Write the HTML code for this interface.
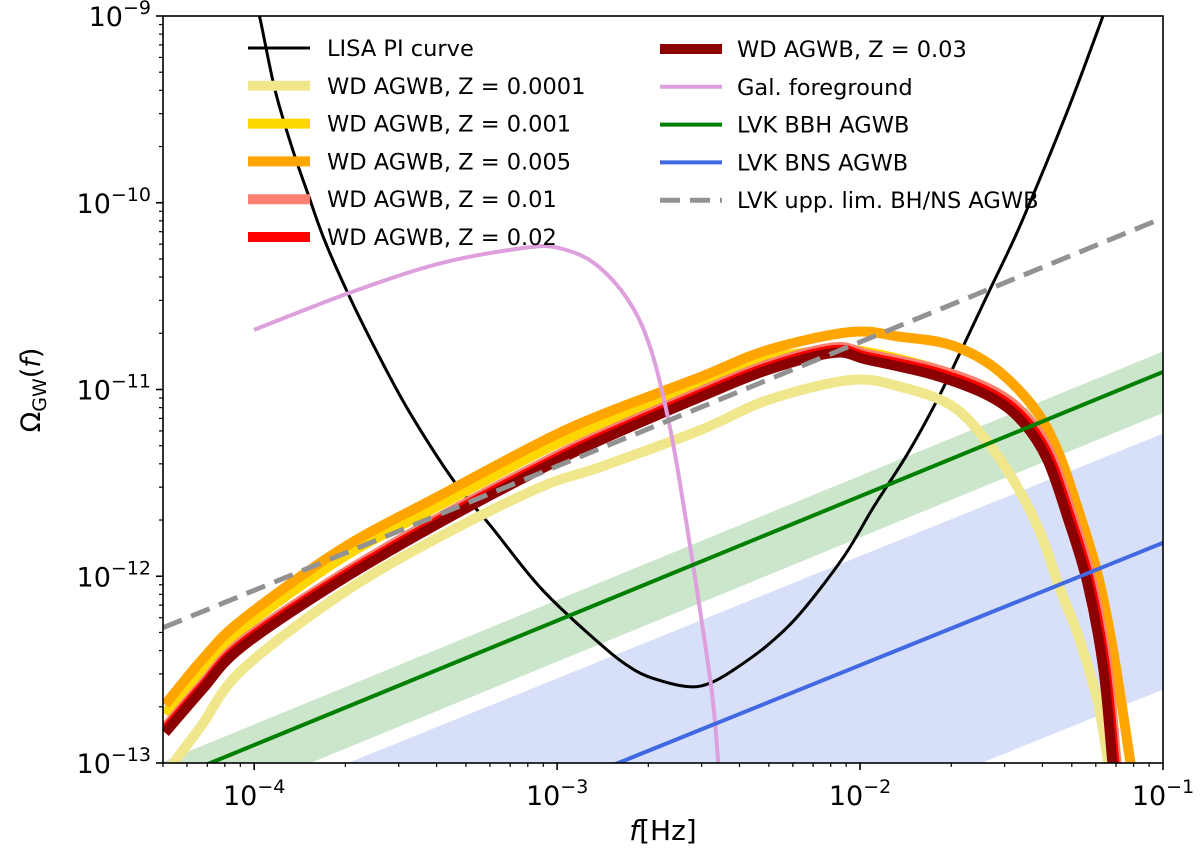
<!DOCTYPE html>
<html><head><meta charset="utf-8"><style>
html,body{margin:0;padding:0;background:#fff;overflow:hidden;width:1200px;height:858px;}
svg{display:block;font-family:"DejaVu Sans","Liberation Sans",sans-serif;}
</style></head><body>
<svg id="chart" width="1200" height="858" viewBox="0 0 1200 858" xmlns="http://www.w3.org/2000/svg">
<defs><clipPath id="plotclip"><rect x="163" y="16" width="1000" height="747"/></clipPath></defs>
<g id="plot" clip-path="url(#plotclip)"></g>
<g id="axes"></g>
<g id="legend"></g>
</svg>
<script>
// ---- data (log10 values) ----
const xTickExps = [-4, -3, -2, -1];
const yTickExps = [-13, -12, -11, -10, -9];

const lisaF = [-4.0,-3.981,-3.932,-3.876,-3.820,-3.767,-3.688,-3.602,-3.490,-3.339,-3.217,-3.052,-2.855,-2.746,-2.657,-2.559,-2.492,-2.416,-2.304,-2.196,-2.054,-1.955,-1.843,-1.745,-1.659,-1.570,-1.481,-1.382,-1.296,-1.198,-1.18];
const lisaOmega = [-8.9,-9.011,-9.391,-9.701,-9.964,-10.204,-10.494,-10.777,-11.114,-11.494,-11.735,-12.067,-12.367,-12.501,-12.56,-12.592,-12.57,-12.50,-12.367,-12.196,-11.896,-11.628,-11.344,-11.055,-10.766,-10.461,-10.156,-9.776,-9.428,-9.0,-8.92];

const galF = [-4.001,-3.678,-3.382,-3.108,-2.996,-2.878,-2.766,-2.690,-2.624,-2.568,-2.525,-2.486,-2.466];
const galOmega = [-10.681,-10.478,-10.323,-10.242,-10.242,-10.323,-10.520,-10.788,-11.232,-11.768,-12.217,-12.661,-13.05];

const uppF = [-4.3, -1.0];
const uppOmega = [-12.275, -10.081];

const bbhF = [-4.4, -1.0];
const bbhOmega = [-13.17, -10.906];
const bbhBandHi = [0.11, 0.11];
const bbhBandLo = [-0.22, -0.22];

const bnsF = [-4.4, -1.0];
const bnsOmega = [-14.05, -11.821];
const bnsBandHi = [0.585, 0.585];
const bnsBandLo = [-0.786, -0.786];

const z0001F = [-4.31,-4.258,-4.172,-4.040,-3.711,-3.382,-3.052,-2.855,-2.525,-2.304,-2.031,-1.866,-1.702,-1.593,-1.494,-1.405,-1.339,-1.283,-1.217,-1.181,-1.17];
const z0001Omega = [-13.1,-12.983,-12.795,-12.501,-12.094,-11.784,-11.521,-11.414,-11.216,-11.056,-10.949,-10.986,-11.082,-11.254,-11.484,-11.767,-12.073,-12.303,-12.661,-12.999,-13.08];

const z005F = [-4.294,-4.172,-4.040,-3.711,-3.382,-3.052,-2.855,-2.525,-2.304,-2.031,-1.866,-1.702,-1.560,-1.428,-1.349,-1.283,-1.217,-1.165,-1.109,-1.10];
const z005Omega = [-12.688,-12.447,-12.233,-11.853,-11.564,-11.280,-11.136,-10.932,-10.788,-10.692,-10.718,-10.761,-10.879,-11.093,-11.323,-11.628,-11.982,-12.394,-12.983,-13.08];

const z03F = [-4.294,-4.172,-4.040,-3.711,-3.382,-3.052,-2.855,-2.525,-2.304,-2.087,-1.975,-1.758,-1.570,-1.461,-1.382,-1.316,-1.250,-1.198,-1.168,-1.163];
const z03Omega = [-12.838,-12.608,-12.378,-12.019,-11.709,-11.425,-11.270,-11.039,-10.895,-10.804,-10.841,-10.922,-11.039,-11.179,-11.377,-11.682,-12.035,-12.485,-12.983,-13.08];

const z02F = [-4.294,-4.172,-4.040,-3.711,-3.382,-3.052,-2.855,-2.525,-2.304,-2.087,-1.975,-1.752,-1.564,-1.455,-1.376,-1.310,-1.244,-1.192,-1.162,-1.157];
const z02Omega = [-12.823,-12.593,-12.363,-12.004,-11.694,-11.410,-11.255,-11.024,-10.880,-10.789,-10.826,-10.907,-11.024,-11.164,-11.362,-11.667,-12.020,-12.470,-12.968,-13.08];

const z01F = [-4.294,-4.172,-4.040,-3.711,-3.382,-3.052,-2.855,-2.525,-2.304,-2.087,-1.975,-1.746,-1.558,-1.449,-1.370,-1.304,-1.238,-1.186,-1.156,-1.150];
const z01Omega = [-12.808,-12.578,-12.348,-11.989,-11.679,-11.395,-11.240,-11.009,-10.865,-10.774,-10.811,-10.892,-11.009,-11.149,-11.347,-11.652,-12.005,-12.455,-12.953,-13.08];

const z001F = [-4.294,-4.172,-4.040,-3.711,-3.382,-3.052,-2.855,-2.525,-2.304,-2.087,-1.975,-1.746,-1.558,-1.449,-1.370,-1.304,-1.238,-1.186,-1.156,-1.150];
const z001Omega = [-12.738,-12.497,-12.283,-11.903,-11.614,-11.330,-11.186,-10.982,-10.838,-10.79,-10.80,-10.892,-11.009,-11.149,-11.347,-11.652,-12.005,-12.455,-12.953,-13.08];

// ---- axes ----
const X0=163, X1=1163, Y0=16, Y1=763;
const XMIN=Math.log10(5e-5), XMAX=-1, YMIN=-13, YMAX=-9;
function sx(v){return X0+(v-XMIN)/(XMAX-XMIN)*(X1-X0);}
function sy(v){return Y1-(v-YMIN)/(YMAX-YMIN)*(Y1-Y0);}
const NS="http://www.w3.org/2000/svg";
function mk(tag,attrs,parent){const e=document.createElementNS(NS,tag);for(const k in attrs)e.setAttribute(k,attrs[k]);parent.appendChild(e);return e;}
function smoothPath(xs,ys){
  const p=xs.map((x,i)=>[sx(x),sy(ys[i])]);
  let d="M"+p[0][0].toFixed(1)+","+p[0][1].toFixed(1);
  for(let i=0;i<p.length-1;i++){
    const p0=p[i-1]||p[i],p1=p[i],p2=p[i+1],p3=p[i+2]||p2;
    const c1=[p1[0]+(p2[0]-p0[0])/6,p1[1]+(p2[1]-p0[1])/6];
    const c2=[p2[0]-(p3[0]-p1[0])/6,p2[1]-(p3[1]-p1[1])/6];
    d+=" C"+c1[0].toFixed(1)+","+c1[1].toFixed(1)+" "+c2[0].toFixed(1)+","+c2[1].toFixed(1)+" "+p2[0].toFixed(1)+","+p2[1].toFixed(1);
  }
  return d;
}
function clipEdge(xa,ya,xb,yb,floor){
  if(ya<floor && yb>floor){const t=(floor-ya)/(yb-ya);return [xa+t*(xb-xa),floor,xb,yb];}
  return [xa,ya,xb,yb];
}
const plot=document.getElementById('plot');
function band(xs,ys,hi,lo,color,name){
  const floor=-13.05, n=xs.length-1;
  const up=clipEdge(xs[0],ys[0]+hi[0],xs[n],ys[n]+hi[n],floor);
  const dn=clipEdge(xs[0],ys[0]+lo[0],xs[n],ys[n]+lo[n],floor);
  const pts=[[up[0],up[1]],[up[2],up[3]],[dn[2],dn[3]],[dn[0],dn[1]]].map(p=>sx(p[0]).toFixed(1)+","+sy(p[1]).toFixed(1));
  const el=mk('polygon',{points:pts.join(' '),fill:color,stroke:'none'},plot);
  
  
}
function line(xs,ys,color,w,name,dash){
  const a={d:smoothPath(xs,ys),fill:'none',stroke:color,'stroke-width':w,'stroke-linejoin':'round','stroke-linecap':'butt'};
  if(dash)a['stroke-dasharray']=dash;
  const el=mk('path',a,plot);
  
  
}
function straight(xs,ys,color,w,name,dash){
  const n=xs.length-1;
  const c=clipEdge(xs[0],ys[0],xs[n],ys[n],-13.05);
  const a={x1:sx(c[0]),y1:sy(c[1]),x2:sx(c[2]),y2:sy(c[3]),stroke:color,'stroke-width':w};
  if(dash)a['stroke-dasharray']=dash;
  const el=mk('line',a,plot);
  
  
}
band(bbhF,bbhOmega,bbhBandHi,bbhBandLo,'#cce6cc','bbh-uncertainty-band');
band(bnsF,bnsOmega,bnsBandHi,bnsBandLo,'#d7e0f8','bns-uncertainty-band');
line(lisaF,lisaOmega,'#000',3,'lisa-pi-curve');
line(z0001F,z0001Omega,'#f0e68c',10,'wd-agwb-z0001');
line(z001F,z001Omega,'#ffd700',10,'wd-agwb-z001');
line(z005F,z005Omega,'#ffa500',10,'wd-agwb-z005');
line(z01F,z01Omega,'#fa8072',10,'wd-agwb-z01');
line(z02F,z02Omega,'#ff0000',10,'wd-agwb-z02');
line(z03F,z03Omega,'#8b0000',10,'wd-agwb-z03');
line(galF,galOmega,'#dda0dd',4,'galactic-foreground');
straight(bbhF,bbhOmega,'#008000',4,'lvk-bbh-agwb');
straight(bnsF,bnsOmega,'#4169e1',4,'lvk-bns-agwb');
straight(uppF,uppOmega,'#929292',5,'lvk-upper-limit',"20,10");

const axes=document.getElementById('axes');
const frame=mk('rect',{x:X0,y:Y0,width:X1-X0,height:Y1-Y0,fill:'none',stroke:'#000','stroke-width':1.6},axes);


for(let e=-5;e<=-1;e++){for(let m=1;m<10;m++){const v=e+Math.log10(m);if(v<XMIN-1e-9||v>XMAX+1e-9)continue;
  const x=sx(v);const L=m===1?7:4;mk('line',{x1:x,y1:Y1,x2:x,y2:Y1+L,stroke:'#000','stroke-width':m===1?1.6:1.2},axes);}}
for(let e=-13;e<=-9;e++){for(let m=1;m<10;m++){const v=e+Math.log10(m);if(v>YMAX+1e-9)continue;
  const y=sy(v);const L=m===1?7:4;mk('line',{x1:X0,y1:y,x2:X0-L,y2:y,stroke:'#000','stroke-width':m===1?1.6:1.2},axes);}}
xTickExps.forEach(e=>{
  const t=mk('text',{x:sx(e),y:Y1+42,'text-anchor':'middle','font-size':27,fill:'#000'},axes);
  t.innerHTML='10<tspan dy="-12" font-size="19">\u2212'+(-e)+'</tspan>';
  
  
});
yTickExps.forEach(e=>{
  const t=mk('text',{x:X0-12,y:sy(e)+10,'text-anchor':'end','font-size':27,fill:'#000'},axes);
  t.innerHTML='10<tspan dy="-12" font-size="19">\u2212'+(-e)+'</tspan>';
  
  
});
const xl=mk('text',{x:663,y:840,'text-anchor':'middle','font-size':28,fill:'#000'},axes);
xl.innerHTML='<tspan font-style="italic">f</tspan>[Hz]';


const yl=mk('text',{x:0,y:0,'text-anchor':'middle','font-size':27,fill:'#000',transform:'translate(40,390) rotate(-90)'},axes);
yl.innerHTML='\u03A9<tspan font-size="19" dy="6">GW</tspan><tspan dy="-6">(</tspan><tspan font-style="italic">f</tspan>)';



// ---- legend ----
const legend=document.getElementById('legend');
const legLabels=["LISA PI curve","WD AGWB, Z = 0.0001","WD AGWB, Z = 0.001","WD AGWB, Z = 0.005","WD AGWB, Z = 0.01","WD AGWB, Z = 0.02","WD AGWB, Z = 0.03","Gal. foreground","LVK BBH AGWB","LVK BNS AGWB","LVK upp. lim. BH/NS AGWB"];
const legColors=['#000','#f0e68c','#ffd700','#ffa500','#fa8072','#ff0000','#8b0000','#dda0dd','#008000','#4169e1','#929292'];
const legWidths=[3,10,10,10,10,10,10,4,4,4,5];
legLabels.forEach((lab,i)=>{
  const col=i<6?0:1, row=i<6?i:i-6;
  const hx=col===0?248:660, tx=col===0?327:737, y=(col===0?48:49)+row*37.8;
  const g=mk('g',{},legend);
  
  
  const a={x1:hx,y1:y,x2:hx+62,y2:y,stroke:legColors[i],'stroke-width':legWidths[i]};
  if(i===10)a['stroke-dasharray']='20,10';
  mk('line',a,g);
  const t=mk('text',{x:tx,y:y+8,'font-size':22.5,fill:'#000'},g);
  t.textContent=lab;
});
</script>
</body></html>
